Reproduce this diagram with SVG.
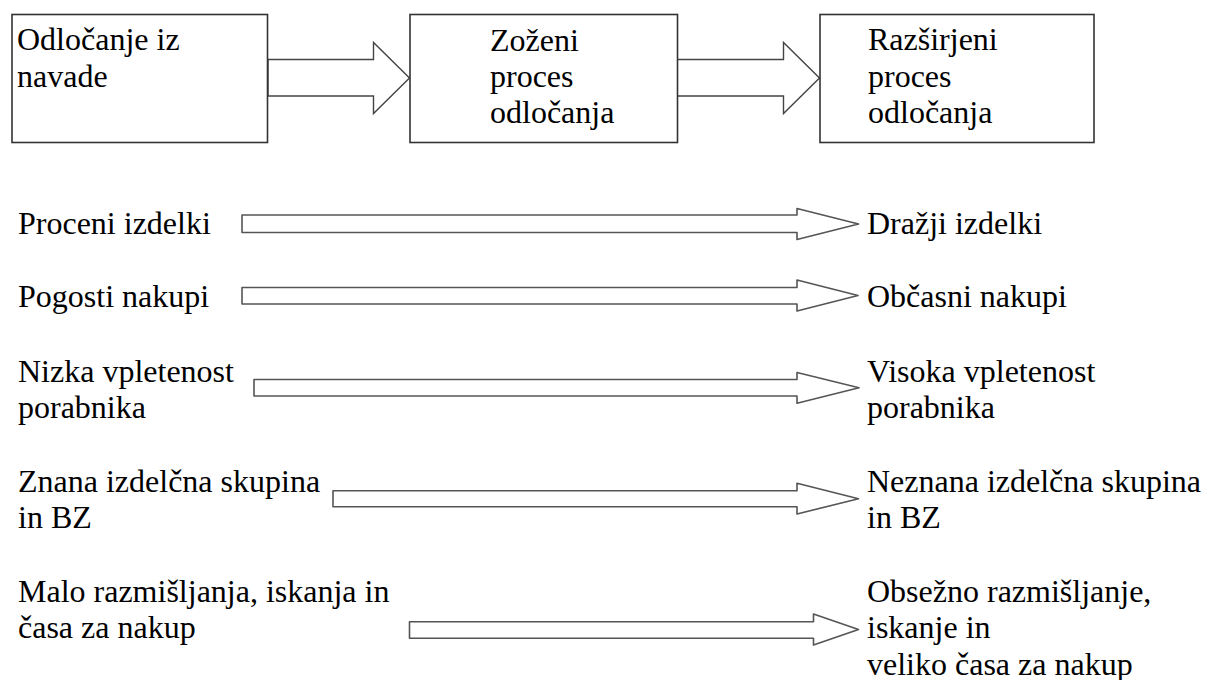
<svg xmlns="http://www.w3.org/2000/svg" width="1209" height="680" viewBox="0 0 1209 680">
<style>
.box{fill:#fff;stroke:#333;stroke-width:1.6}
.big{fill:#fff;stroke:#444;stroke-width:1.4;stroke-linejoin:miter}
.arr{fill:#fff;stroke:#555;stroke-width:1.6;stroke-linejoin:round}
.t{font-family:'Liberation Serif','Times New Roman',serif;font-size:32px;fill:#000}
</style>
<rect width="1209" height="680" fill="#fff"/>
<g id="connectors">
<polygon class="big" points="268,59.5 373.5,59.5 373.5,42.5 409.5,78 373.5,113.5 373.5,96 268,96"/>
<polygon class="big" points="677,59.5 783.5,59.5 783.5,42.5 819.5,78 783.5,113.5 783.5,96 677,96"/>
<polygon class="arr" points="242,215 797,215 797,208.5 858.5,224 797,239.5 797,232.5 242,232.5"/>
<polygon class="arr" points="242,287.5 797,287.5 797,280 858,295.5 797,311 797,304 242,304"/>
<polygon class="arr" points="254,379.5 797,379.5 797,372.5 859,387.8 797,403.3 797,396 254,396"/>
<polygon class="arr" points="333,490.7 797,490.7 797,483.3 858.5,498.7 797,514 797,506.7 333,506.7"/>
<polygon class="arr" points="409.5,621.7 813.5,621.7 813.5,614 858.5,629.5 813.5,645 813.5,638.3 409.5,638.3"/>
</g>
<g class="t">
<g id="node-habit">
<rect class="box" x="12" y="14.5" width="255.5" height="128"/>
<text x="17" y="50">Odločanje iz</text>
<text x="17" y="86.7">navade</text>
</g>
<g id="node-narrow">
<rect class="box" x="410" y="14.5" width="267.5" height="128"/>
<text x="490" y="50.5">Zoženi</text>
<text x="490" y="87">proces</text>
<text x="490" y="123.3">odločanja</text>
</g>
<g id="node-extended">
<rect class="box" x="820" y="14.5" width="274" height="128"/>
<text x="868" y="50">Razširjeni</text>
<text x="868" y="87">proces</text>
<text x="868" y="123.3">odločanja</text>
</g>
<g id="row1-left"><text x="18" y="234.3">Proceni izdelki</text></g>
<g id="row1-right"><text x="867" y="234.3">Dražji izdelki</text></g>
<g id="row2-left"><text x="18" y="306.5">Pogosti nakupi</text></g>
<g id="row2-right"><text x="867" y="306.5">Občasni nakupi</text></g>
<g id="row3-left"><text x="18" y="381.7">Nizka vpletenost</text><text x="18" y="418.3">porabnika</text></g>
<g id="row3-right"><text x="867" y="381.7">Visoka vpletenost</text><text x="867" y="418.3">porabnika</text></g>
<g id="row4-left"><text x="18" y="491.7">Znana izdelčna skupina</text><text x="18" y="528">in BZ</text></g>
<g id="row4-right"><text x="867" y="491.7">Neznana izdelčna skupina</text><text x="867" y="528">in BZ</text></g>
<g id="row5-left"><text x="18" y="601.7">Malo razmišljanja, iskanja in</text><text x="18" y="638">časa za nakup</text></g>
<g id="row5-right"><text x="867" y="601.7">Obsežno razmišljanje,</text><text x="867" y="638.3">iskanje in</text><text x="867" y="675">veliko časa za nakup</text></g>
</g>
</svg>
